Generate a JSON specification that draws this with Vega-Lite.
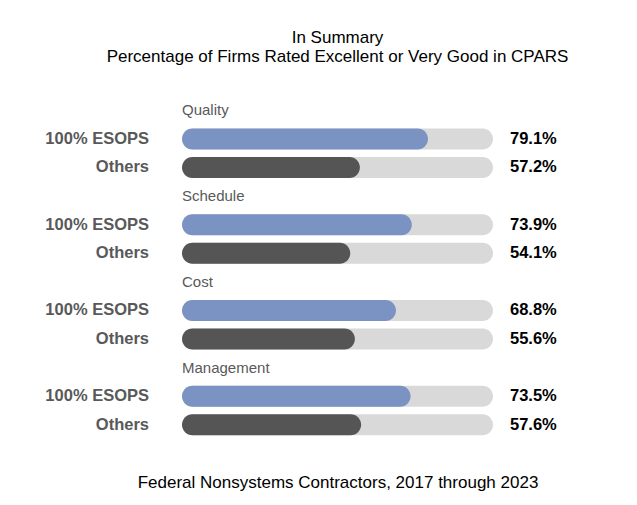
{
  "$schema": "https://vega.github.io/schema/vega-lite/v6.json",
  "autosize": "none",
  "width": 311,
  "height": 343,
  "padding": {"left": 182, "top": 96, "right": 144, "bottom": 66},
  "background": "white",
  "config": {"view": {"stroke": null}, "font": "Liberation Sans"},
  "title": {
    "text": ["In Summary", "Percentage of Firms Rated Excellent or Very Good in CPARS"],
    "fontSize": 17,
    "fontWeight": "normal",
    "color": "black",
    "lineHeight": 19,
    "anchor": "middle",
    "offset": 30
  },
  "data": {
    "values": [
      {"row": "Quality", "metric": "Quality", "group": "", "pct": null},
      {"row": "Quality|E", "metric": "Quality", "group": "100% ESOPS", "pct": 79.1},
      {"row": "Quality|O", "metric": "Quality", "group": "Others", "pct": 57.2},
      {"row": "Schedule", "metric": "Schedule", "group": "", "pct": null},
      {"row": "Schedule|E", "metric": "Schedule", "group": "100% ESOPS", "pct": 73.9},
      {"row": "Schedule|O", "metric": "Schedule", "group": "Others", "pct": 54.1},
      {"row": "Cost", "metric": "Cost", "group": "", "pct": null},
      {"row": "Cost|E", "metric": "Cost", "group": "100% ESOPS", "pct": 68.8},
      {"row": "Cost|O", "metric": "Cost", "group": "Others", "pct": 55.6},
      {"row": "Management", "metric": "Management", "group": "", "pct": null},
      {"row": "Management|E", "metric": "Management", "group": "100% ESOPS", "pct": 73.5},
      {"row": "Management|O", "metric": "Management", "group": "Others", "pct": 57.6}
    ]
  },
  "encoding": {
    "y": {
      "field": "row",
      "type": "nominal",
      "scale": {
        "domain": ["Quality", "Quality|E", "Quality|O", "Schedule", "Schedule|E", "Schedule|O", "Cost", "Cost|E", "Cost|O", "Management", "Management|E", "Management|O"],
        "paddingInner": 0,
        "paddingOuter": 0
      },
      "axis": null
    }
  },
  "layer": [
    {
      "transform": [{"filter": "datum.group != ''"}],
      "mark": {"type": "bar", "height": 21, "cornerRadius": 10.5, "color": "#d9d9d9"},
      "encoding": {
        "x": {"datum": 100, "type": "quantitative", "scale": {"domain": [0, 100]},
          "axis": {"title": "Federal Nonsystems Contractors, 2017 through 2023", "labels": false, "ticks": false, "domain": false, "grid": false, "titleFontSize": 17, "titleFontWeight": "normal", "titleColor": "black", "titlePadding": 35}},
        "x2": {"datum": 0}
      }
    },
    {
      "transform": [{"filter": "datum.group != ''"}],
      "mark": {"type": "bar", "height": 21, "cornerRadius": 10.5},
      "encoding": {
        "x": {"field": "pct", "type": "quantitative"},
        "x2": {"datum": 0},
        "color": {
          "field": "group",
          "type": "nominal",
          "scale": {"domain": ["100% ESOPS", "Others"], "range": ["#7b93c2", "#555555"]},
          "legend": null
        }
      }
    },
    {
      "transform": [{"filter": "datum.group != ''"}, {"calculate": "format(datum.pct, '.1f') + '%'", "as": "lab"}],
      "mark": {"type": "text", "align": "left", "dx": 17, "fontSize": 16.5, "fontWeight": "bold", "color": "black"},
      "encoding": {
        "x": {"datum": 100, "type": "quantitative"},
        "text": {"field": "lab"}
      }
    },
    {
      "transform": [{"filter": "datum.group != ''"}],
      "mark": {"type": "text", "align": "right", "dx": -33, "fontSize": 16.5, "fontWeight": "bold", "color": "#595959"},
      "encoding": {
        "x": {"datum": 0, "type": "quantitative"},
        "text": {"field": "group"}
      }
    },
    {
      "transform": [{"filter": "datum.group == ''"}],
      "mark": {"type": "text", "align": "left", "fontSize": 15, "color": "#595959"},
      "encoding": {
        "x": {"datum": 0, "type": "quantitative"},
        "text": {"field": "metric"}
      }
    }
  ]
}
